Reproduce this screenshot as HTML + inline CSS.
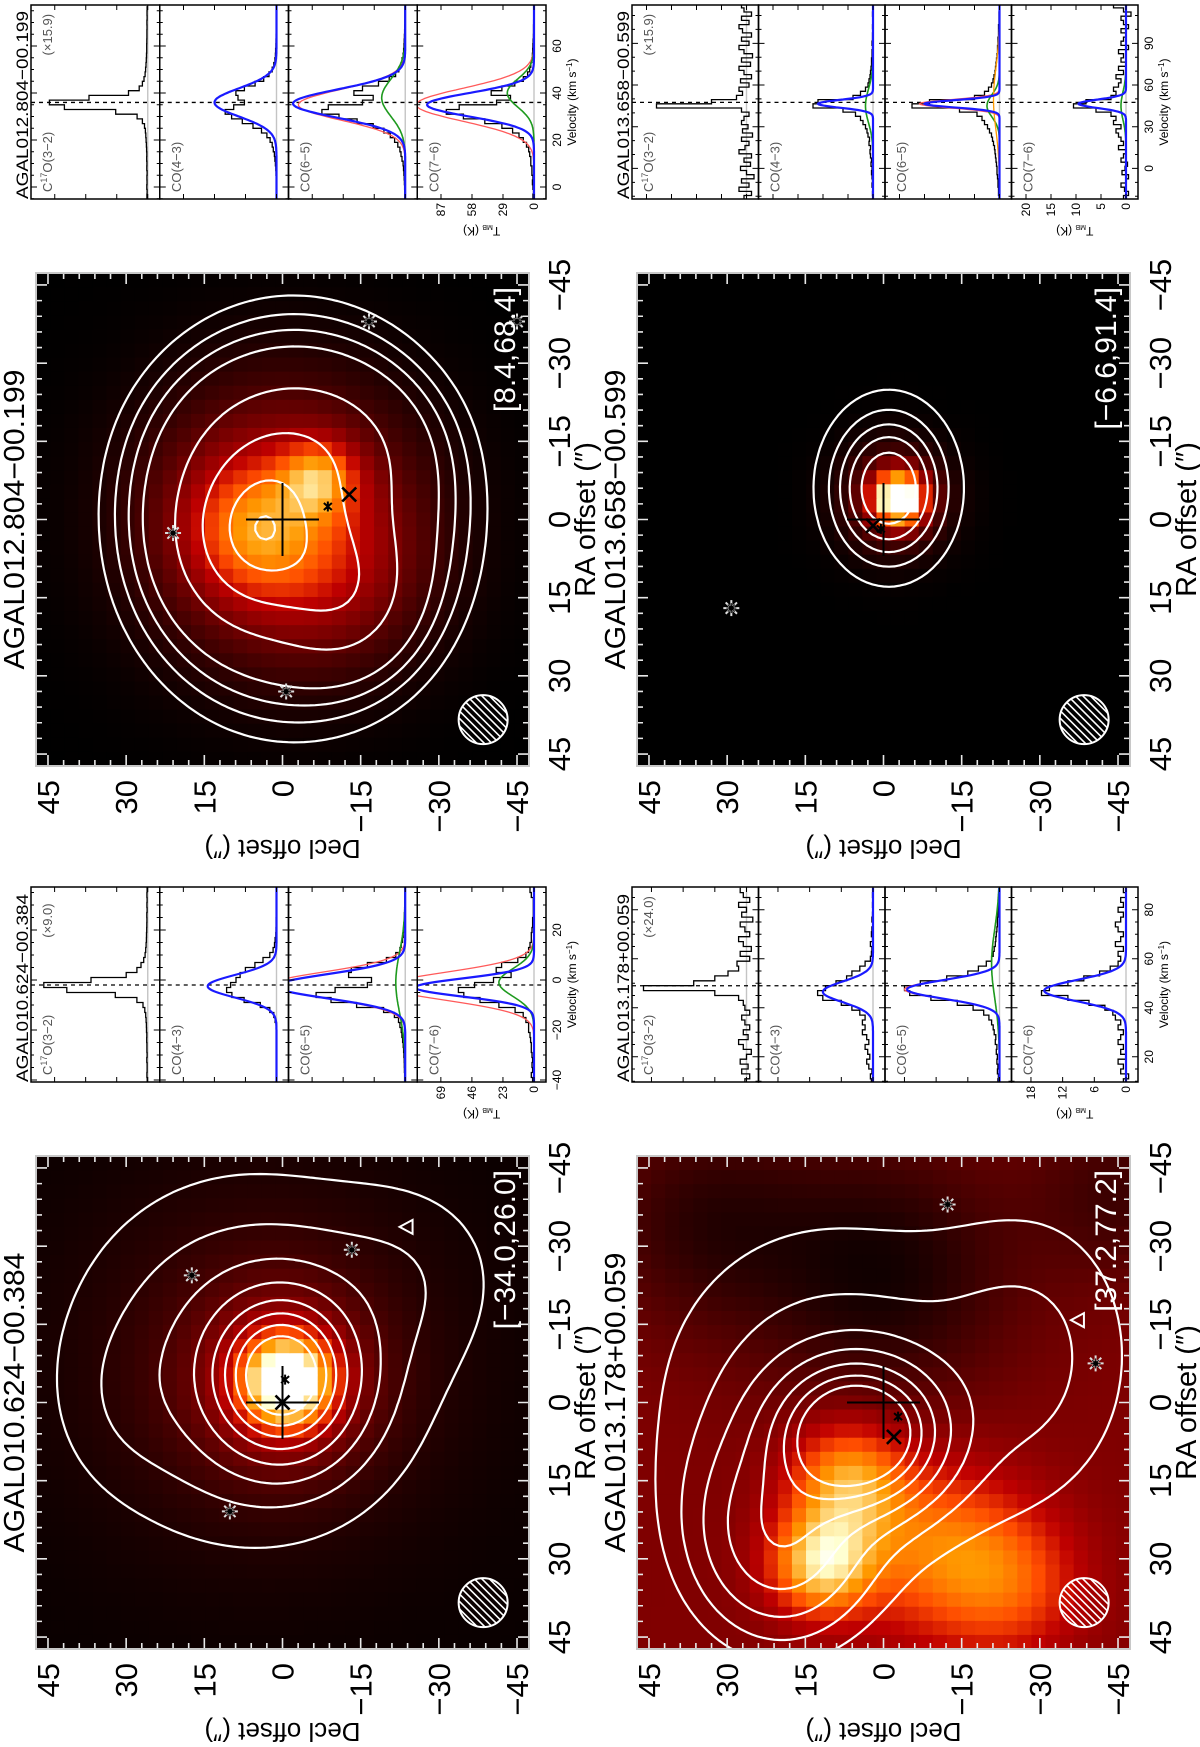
<!DOCTYPE html>
<html><head><meta charset="utf-8">
<style>
html,body{margin:0;padding:0;background:#fff;width:1200px;height:1747px;overflow:hidden}
#rot{position:absolute;left:0;top:0;width:1747px;height:1200px;transform-origin:0 0;transform:translateY(1747px) rotate(-90deg)}
svg text{font-family:"Liberation Sans",sans-serif}
</style></head>
<body>
<div id="rot">
<svg id="fig" xmlns="http://www.w3.org/2000/svg" width="1747" height="1200"></svg>
</div>
<script>
// ---------- axis tick data ----------
const raTicks=[45,30,15,0,-15,-30,-45];
const decTicks=[45,30,15,0,-15,-30,-45];
const mapTitles=['AGAL010.624\u221200.384','AGAL012.804\u221200.199','AGAL013.178+00.059','AGAL013.658\u221200.599'];
const mapRanges=['[\u221234.0,26.0]','[8.4,68.4]','[37.2,77.2]','[\u22126.6,91.4]'];

// ---------- map 1 (AGAL010.624) ----------
const m1Base=0.02;
const m1ColRA=[-4,-4,-8];
const m1ColDec=[-1,0,4];
const m1ColAmp=[0.8,0.3,0.14];
const m1ColSig=[6,12,25];
const m1ConRA=[-5,-8,-25,0];
const m1ConDec=[0,6,-25,30];
const m1ConAmp=[1,0.22,0.06,0.03];
const m1ConSRA=[9,20,12,10];
const m1ConSDec=[8,20,12,8];
const m1Levels=[0.045,0.1,0.18,0.3,0.45,0.6,0.75,0.9];
const m1StarRA=[20.9,-24.4,-29.3];
const m1StarDec=[10.1,17.4,-13.3];
const m1Cross=[0,0];
const m1Ast=[-4.4,-0.5];
const m1Tri=[-33.7,-24];

// ---------- map 2 (AGAL012.804) ----------
const m2Base=0.0;
const m2ColRA=[-8,2,0,10];
const m2ColDec=[-7,6,0,-10];
const m2ColAmp=[0.4,0.32,0.44,0.15];
const m2ColSig=[5,9,18,12];
const m2ConRA=[3,14,-14,0];
const m2ConDec=[5,-12,-4,-2];
const m2ConAmp=[0.5,0.25,0.2,0.55];
const m2ConSRA=[10,9,10,30];
const m2ConSDec=[9,8,14,26];
const m2Levels=[0.2,0.24,0.28,0.33,0.5,0.72,0.95,1.08];
const m2StarRA=[2.6,33,-38,-38];
const m2StarDec=[21,-0.7,-16.6,-45];
const m2Cross=[-4.8,-12.8];
const m2Ast=[-2.5,-8.7];
const m2Tri=[];

// ---------- map 3 (AGAL013.178) ----------
const m3Base=0.3;
const m3ColRA=[31,15,28,35,-25,-40,-35];
const m3ColDec=[12,7,-10,-25,0,-45,35];
const m3ColAmp=[0.55,0.45,0.35,0.25,-0.25,-0.15,-0.18];
const m3ColSig=[7,8,12,10,18,12,15];
const m3ConRA=[6,25,0,-10];
const m3ConDec=[5,20,10,-30];
const m3ConAmp=[1,0.3,0.12,0.08];
const m3ConSRA=[8,12,25,20];
const m3ConSDec=[9,10,24,14];
const m3Levels=[0.05,0.09,0.15,0.24,0.36,0.5,0.64];
const m3StarRA=[-38,-7.5];
const m3StarDec=[-12.3,-40.7];
const m3Cross=[6.6,-2];
const m3Ast=[2.7,-2.8];
const m3Tri=[-15.8,-37.5];

// ---------- map 4 (AGAL013.658) ----------
const m4Base=0.0;
const m4ColRA=[-4,-4];
const m4ColDec=[-3,-2];
const m4ColAmp=[1.0,0.3];
const m4ColSig=[3.5,7];
const m4ConRA=[-6];
const m4ConDec=[-1];
const m4ConAmp=[1];
const m4ConSRA=[9.7];
const m4ConSDec=[7.4];
const m4Levels=[0.15,0.3,0.45,0.6,0.78];
const m4StarRA=[17];
const m4StarDec=[29.2];
const m4Cross=[1.2,2];
const m4Ast=[1.8,0.5];
const m4Tri=[];

// ---------- spectra tick data ----------
const specTitles=mapTitles;
const specScales=['(\u00d79.0)','(\u00d715.9)','(\u00d724.0)','(\u00d715.9)'];
const s1VTicks=[-40,-20,0,20];
const s2VTicks=[0,20,40,60];
const s3VTicks=[20,40,60,80];
const s4VTicks=[0,30,60,90];
const s1TTicks=[0,23,46,69];
const s2TTicks=[0,29,58,87];
const s3TTicks=[0,6,12,18];
const s4TTicks=[0,5,10,15,20];
const specVlsr=[-2,36,49,47.5];

// spectra 1 channels: -40..36 step 2
const s1Chan=[-40,2];
const s1C17O=[0.4,0.6,0.5,0.5,0.7,0.5,0.6,0.6,0.8,0.7,0.9,1.0,1.2,1.5,2.2,3.5,8,24,60,77,42,16,8,5,3,2,1.5,1.2,1.0,0.9,0.8,0.7,0.6,0.7,0.5,0.6,0.5,0.6,0.5];
const s1CO43=[0,0,0,0,0,0,0,0,0,0,0,0,1,2,5,12,24,33,37,34,30,27,23,16,10,5,2.5,1.5,1,0.5,0.4,0.3,0.3,0.2,0.2,0.1,0.1,0,0];
const s1CO65=[0.5,0.5,0.6,0.7,0.8,1,1.2,1.5,2,2.5,3,4,5,8,16,36,55,66,52,28,25,42,40,28,14,7,4,3,2,1.5,1.2,1,0.8,0.6,0.5,0.4,0.3,0.3,0.2];
const s1CO76=[1,2,1,1.5,1,1.5,2,2,2.5,3,4,4,6,8,14,26,40,52,56,44,30,17,28,24,12,6,4,3,2,2,1.5,1,1,0.5,0.5,0.5,0.5,2,3];
const s1Fit43={blue:[51,-2.5,4.5]};
const s1Fit65={red:[100,-2,5.2],green:[7,-1,12],blue:[96,-2.5,4.8]};
const s1Fit76={red:[110,-2.5,5.5],green:[26,-1,5.5],blue:[88,-3,3.6]};

// spectra 2 channels: -4..76 step 2
const s2Chan=[-4,2];
const s2C17O=[0.8,0.6,0.9,0.7,0.8,0.6,0.9,0.8,1,0.9,1.1,1.3,1.5,1.8,2.2,3,5,10,30,78,92,55,18,8,5,3.5,2.5,2,1.6,1.4,1.2,1,1,0.9,0.8,0.8,0.7,0.8,0.6,0.7,0.6];
const s2CO43=[0,0,0,0.2,0.3,0.5,0.7,1,1.5,2,3,4,6,9,14,22,32,42,48,40,30,36,38,30,20,12,7,4,2.5,1.5,1,0.8,0.6,0.5,0.4,0.3,0.3,0.2,0.2,0.1,0.1];
const s2CO65=[0.5,0.5,0.6,0.8,1,1.3,1.6,2,3,4,5,7,10,14,20,30,45,62,78,72,40,30,48,40,25,15,9,6,4,3,2,1.5,1.2,1,0.8,0.6,0.5,0.4,0.3,0.3,0.2];
const s2CO76=[1,0.5,1,1.5,1,2,2,3,3,4,5,7,10,14,20,30,46,66,82,70,35,22,40,30,18,10,6,4,3,2,1.5,1.2,1,0.8,0.6,0.5,0.5,0.4,0.3,0.3,0.2];
const s2Fit43={blue:[58,36,6]};
const s2Fit65={red:[100,35,6.5],green:[22,38,8],blue:[105,35.5,6]};
const s2Fit76={red:[110,35,7],green:[25,40,6],blue:[100,35,5]};

// spectra 3 channels: 10..88 step 2
const s3Chan=[10,2];
const s3C17O=[0.3,-0.6,0.9,-0.3,1.2,0,-0.9,0.6,1.5,-0.3,0.6,-0.6,0.3,0.9,-0.6,0.3,0.6,1.5,6,19.5,10,6,3.5,1.5,1.8,-0.6,1.2,-0.9,0.6,1.5,-0.6,0.3,1.2,-1.2,0.9,0,1.5,-0.6,0.6,1.2];
const s3CO43=[0.3,0.5,0.2,0.8,1.2,0.6,1,1.5,0.8,1.2,2,1.5,2,1.5,2.5,4,6,9.5,10.5,9,7,5,4,2.5,1.5,0.5,0.3,0.2,0.5,0.1,0.3,0.2,0,0.2,0.1,0,0.1,0,0.1,0];
const s3CO65=[0.3,0.2,0.4,0.3,0.5,0.4,0.6,0.5,0.8,0.7,1,1.2,1.5,2,3,5,8,13,17,18,15,10,6,4,2.5,1.5,1.2,1,0.8,0.7,0.6,0.5,0.4,0.4,0.3,0.3,0.2,0.2,0.1,0.1];
const s3CO76=[0.5,-0.5,1,0.5,1.5,0,1,0.5,1.5,1,0.5,1.5,1,2,2.5,4,7,11,16,14.5,11,8,5,3,1.5,1,1.5,0.5,2,1,0.5,1.5,2,1,0.5,1.5,0.5,1,0,0.5];
const s3Fit43={blue:[9.5,46.5,4.2]};
const s3Fit65={red:[18,47.5,3.8],green:[1.5,58,14],blue:[17.5,47.5,3.8]};
const s3Fit76={blue:[15.5,47,4.3]};

// spectra 4 channels: -21..117 step 3
const s4Chan=[-21,3];
const s4C17O=[0.5,-1,1.5,-0.5,1,-1.5,0,1.2,-0.8,0.5,-1,1.5,0.3,-0.5,1,-1.2,0.8,-0.3,1,0.5,-0.5,1,18,7,2,0.8,1.5,-0.5,1.2,-1,0.5,1.5,-0.8,1,-1.2,0.5,1.5,-0.5,1,-1,0.8,1.5,-0.5,1,-1,0.5,1];
const s4CO43=[0,0.1,0,0.2,0.1,0.2,0.3,0.2,0.4,0.3,0.5,0.6,0.5,0.8,0.7,1,1.2,1.5,2,2.5,3.5,6,12,11,4,2.5,1.5,1,0.8,0.6,0.5,0.4,0.3,0.3,0.2,0.2,0.1,0.2,0.1,0.1,0,0.1,0,0,0.1,0,0];
const s4CO65=[0.1,0.2,0.2,0.3,0.3,0.4,0.5,0.5,0.6,0.7,0.8,0.9,1,1.2,1.4,1.6,2,2.4,3,3.5,4.5,8,17.5,14,5,3,2.2,1.6,1.3,1.1,0.9,0.8,0.7,0.6,0.5,0.4,0.4,0.3,0.3,0.2,0.2,0.2,0.1,0.1,0.1,0,0];
const s4CO76=[0.5,-0.5,0.3,1,0,-0.5,0.8,0.2,-0.3,1,0.5,0,1.5,0.5,1,1.5,2,1,2.5,2,3,6,10.5,8,3,2,2.5,1.5,1,2,0.5,1.5,0,1,0.5,1.5,-0.5,1,0.5,0,1,-0.5,0.5,1,-1,0.5,2.5];
const s4Fit43={green:[1.5,45,12],blue:[11,46.5,2.8]};
const s4Fit65={red:[16,46.5,3],green:[2.5,45,8],orange:[1.2,50,22],blue:[15,46.5,2.6]};
const s4Fit76={green:[1,45,10],blue:[9.5,46.5,3]};

// ---------- helpers ----------
const NS='http://www.w3.org/2000/svg';
const svg=document.getElementById('fig');
function mk(tag,attrs,parent){const e=document.createElementNS(NS,tag);for(const k in attrs)e.setAttribute(k,attrs[k]);(parent||svg).appendChild(e);return e;}
function txt(str,attrs,parent){const e=mk('text',attrs,parent);e.textContent=str;return e;}
function fmt(n){return n<0?'\u2212'+Math.abs(n):String(n);}
function clamp(x){return Math.max(0,Math.min(1,x));}
function cmap(t){t=clamp(t);const r=Math.min(1,t/0.6),g=clamp((t-0.45)/0.5),b=clamp((t-0.75)/0.25);
  return 'rgb('+Math.round(r*255)+','+Math.round(g*255)+','+Math.round(b*255)+')';}

const SZ=493, R=47.3, S=SZ/94.6;

function drawMap(idx,box,base,cRA,cDec,cAmp,cSig,kRA,kDec,kAmp,kSRA,kSDec,levels,stRA,stDec,crossX,ast,tri){
  const g=mk('g',{});
  
  
  const X=ra=>box.x+(R-ra)*S, Y=dec=>box.y+(R-dec)*S;
  const cp=mk('clipPath',{id:'mclip'+idx},g);
  mk('rect',{x:box.x,y:box.y,width:SZ,height:SZ},cp);
  const img=mk('g',{'clip-path':'url(#mclip'+idx+')'},g);
  
  
  mk('rect',{x:box.x,y:box.y,width:SZ,height:SZ,fill:'#000'},img);
  const N=35, cs=94.6/N;
  for(let i=0;i<N;i++){for(let j=0;j<N;j++){
    const ra=R-(i+0.5)*cs, dec=R-(j+0.5)*cs;
    let v=base;
    for(let k=0;k<cAmp.length;k++){const dr=ra-cRA[k],dd=dec-cDec[k];v+=cAmp[k]*Math.exp(-(dr*dr+dd*dd)/(2*cSig[k]*cSig[k]));}
    const c=mk('rect',{x:(X(ra)-cs*S/2).toFixed(2),y:(Y(dec)-cs*S/2).toFixed(2),width:(cs*S+0.7).toFixed(2),height:(cs*S+0.7).toFixed(2),fill:cmap(v)},img);
    
    
  }}
  const M=90, st=94.6/M, w=st*S;
  const F=[];
  for(let j=0;j<=M;j++){F[j]=[];for(let i=0;i<=M;i++){const ra=R-i*st,dec=R-j*st;let v=0;
    for(let k=0;k<kAmp.length;k++){const dr=(ra-kRA[k])/kSRA[k],dd=(dec-kDec[k])/kSDec[k];v+=kAmp[k]*Math.exp(-(dr*dr+dd*dd)/2);}F[j][i]=v;}}
  let d='';
  const P=p=>p[0].toFixed(1)+' '+p[1].toFixed(1);
  for(const L of levels){for(let j=0;j<M;j++){for(let i=0;i<M;i++){
    const a=F[j][i],b=F[j][i+1],c=F[j+1][i+1],e=F[j+1][i];
    const id=(a>L?8:0)|(b>L?4:0)|(c>L?2:0)|(e>L?1:0);
    if(id===0||id===15)continue;
    const x0=box.x+i*w,y0=box.y+j*w;
    const T=[x0+w*(L-a)/(b-a),y0],Rt=[x0+w,y0+w*(L-b)/(c-b)],B=[x0+w*(L-e)/(c-e),y0+w],Lf=[x0,y0+w*(L-a)/(e-a)];
    const segs={1:[[Lf,B]],2:[[B,Rt]],3:[[Lf,Rt]],4:[[T,Rt]],5:[[Lf,T],[B,Rt]],6:[[T,B]],7:[[Lf,T]],8:[[Lf,T]],9:[[T,B]],10:[[T,Rt],[Lf,B]],11:[[T,Rt]],12:[[Lf,Rt]],13:[[B,Rt]],14:[[Lf,B]]}[id];
    for(const s of segs)d+='M'+P(s[0])+'L'+P(s[1]);
  }}}
  const cont=mk('path',{d:d,fill:'none',stroke:'#fff','stroke-width':2.2,'stroke-linecap':'round'},img);
  
  
  for(let k=0;k<stRA.length;k++){
    const sx=X(stRA[k]),sy=Y(stDec[k]);
    const sg=mk('g',{},img);
    
    
    for(let a=0;a<4;a++){const an=a*Math.PI/4;
      mk('line',{x1:sx-8*Math.cos(an),y1:sy-8*Math.sin(an),x2:sx+8*Math.cos(an),y2:sy+8*Math.sin(an),stroke:'#ddd','stroke-width':2},sg);
      mk('line',{x1:sx-5*Math.cos(an),y1:sy-5*Math.sin(an),x2:sx+5*Math.cos(an),y2:sy+5*Math.sin(an),stroke:'#222','stroke-width':1.2},sg);}
    mk('circle',{cx:sx,cy:sy,r:2.6,fill:'#000'},sg);
  }
  if(tri.length){
    const tx=X(tri[0]),ty=Y(tri[1]);
    const t=mk('path',{d:'M'+(tx-7)+' '+(ty+5)+'L'+(tx+7)+' '+(ty+5)+'L'+tx+' '+(ty-8)+'Z',fill:'none',stroke:'#fff','stroke-width':2},img);
    
    
  }
  const px=X(0),py=Y(0);
  const pl=mk('path',{d:'M'+(px-7*S)+' '+py+'H'+(px+7*S)+'M'+px+' '+(py-7*S)+'V'+(py+7*S),stroke:'#000','stroke-width':2},img);
  
  
  const ax=X(ast[0]),ay=Y(ast[1]);
  const as=mk('path',{d:'M'+(ax-5)+' '+ay+'H'+(ax+5)+'M'+(ax-3.5)+' '+(ay-4)+'L'+(ax+3.5)+' '+(ay+4)+'M'+(ax-3.5)+' '+(ay+4)+'L'+(ax+3.5)+' '+(ay-4),stroke:'#000','stroke-width':2},img);
  
  
  const cx=X(crossX[0]),cy=Y(crossX[1]);
  const cr=mk('path',{d:'M'+(cx-7)+' '+(cy-7)+'L'+(cx+7)+' '+(cy+7)+'M'+(cx-7)+' '+(cy+7)+'L'+(cx+7)+' '+(cy-7),stroke:'#000','stroke-width':2.6},img);
  
  
  const bx=X(38.4),by=Y(-38.5),br=4.7*S;
  const bcp=mk('clipPath',{id:'bclip'+idx},g);
  mk('circle',{cx:bx,cy:by,r:br},bcp);
  const bg=mk('g',{},img);
  
  
  const hg=mk('g',{'clip-path':'url(#bclip'+idx+')'},bg);
  for(let o=-60;o<=60;o+=7.5){mk('line',{x1:bx+o-40,y1:by+40,x2:bx+o+40,y2:by-40,stroke:'#fff','stroke-width':1.6},hg);}
  mk('circle',{cx:bx,cy:by,r:br,fill:'none',stroke:'#fff','stroke-width':2},bg);
  const rl=txt(mapRanges[idx],{x:box.x+SZ-14,y:box.y+SZ-14,'text-anchor':'end','font-size':30,fill:'#fff'},img);
  
  
  let td='';
  for(let v=-45;v<=45;v+=3){const L=(v%15===0)?11:6;
    td+='M'+X(v)+' '+box.y+'v'+L+'M'+X(v)+' '+(box.y+SZ)+'v'+(-L);
    td+='M'+box.x+' '+Y(v)+'h'+L+'M'+(box.x+SZ)+' '+Y(v)+'h'+(-L);}
  const tk=mk('path',{d:td,stroke:'#e8e8e8','stroke-width':1.6},g);
  
  
  const fr=mk('rect',{x:box.x,y:box.y,width:SZ,height:SZ,fill:'none',stroke:'#c8c8c8','stroke-width':2},g);
  
  
  for(const r of raTicks){const t=txt(fmt(r),{x:X(r),y:box.y+SZ+41,'text-anchor':'middle','font-size':31,fill:'#000'},g);
    
    }
  for(const dd of decTicks){const t=txt(fmt(dd),{x:box.x-14,y:Y(dd)+11,'text-anchor':'end','font-size':31,fill:'#000'},g);
    
    }
  const xt=txt('RA offset (\u2033)',{x:box.x+SZ/2,y:box.y+SZ+66,'text-anchor':'middle','font-size':29,fill:'#000'},g);
  
  
  const yx=box.x-74,yy=box.y+SZ/2;
  const yt=txt('Decl offset (\u2033)',{x:yx,y:yy,'text-anchor':'middle','font-size':26,fill:'#000',transform:'rotate(-90 '+yx+' '+yy+')'},g);
  
  
  const tt=txt(mapTitles[idx],{x:box.x+SZ/2,y:box.y-12,'text-anchor':'middle','font-size':29,textLength:300,lengthAdjust:'spacingAndGlyphs',fill:'#000'},g);
  
  
}

const fitColor={blue:'#1a1aff',red:'#ff5a5a',green:'#1e9a1e',orange:'#ff9a00'};
const fitWidth={blue:2.2,red:1.3,green:1.6,orange:1.3};
const lineNames=['C17O(3-2)','CO(4-3)','CO(6-5)','CO(7-6)'];

function drawSpec(idx,cfg,chan,hists,fits,vticks,tticks,minor){
  const g=mk('g',{});
  
  
  const subH=cfg.h/4;
  const X=v=>cfg.x+(v-cfg.vmin)*cfg.pxv;
  const vmax=cfg.vmin+cfg.w/cfg.pxv;
  for(let k=0;k<4;k++){
    const top=cfg.y+k*subH, base=top+subH-12;
    const Yt=T=>base-T*cfg.pxk;
    const sg=mk('g',{},g);
    
    
    const cid='sclip'+idx+'_'+k;
    const cp=mk('clipPath',{id:cid},sg);
    mk('rect',{x:cfg.x,y:top,width:cfg.w,height:subH},cp);
    const inner=mk('g',{'clip-path':'url(#'+cid+')'},sg);
    const bl=mk('line',{x1:cfg.x,y1:base,x2:cfg.x+cfg.w,y2:base,stroke:'#c4c4c4','stroke-width':1.4},inner);
    
    
    const vl=mk('line',{x1:X(specVlsr[idx]),y1:top,x2:X(specVlsr[idx]),y2:top+subH,stroke:'#000','stroke-width':1.3,'stroke-dasharray':'4 4'},inner);
    
    
    const h=hists[k];
    let d='';
    for(let c=0;c<h.length;c++){const v=chan[0]+c*chan[1];const xa=X(v-chan[1]/2),xb=X(v+chan[1]/2),y=Yt(h[c]);
      d+=(c===0?'M':'L')+xa.toFixed(1)+' '+y.toFixed(1)+'L'+xb.toFixed(1)+' '+y.toFixed(1);}
    const hp=mk('path',{d:d,fill:'none',stroke:'#000','stroke-width':1.3},inner);
    
    
    const f=fits[k];
    for(const key of ['red','green','orange','blue']){
      if(!f||!f[key])continue;
      const p=f[key];let fd='';
      for(let v=cfg.vmin;v<=vmax;v+=0.4){const T=p[0]*Math.exp(-Math.pow(v-p[1],2)/(2*p[2]*p[2]));fd+=(v===cfg.vmin?'M':'L')+X(v).toFixed(1)+' '+Yt(T).toFixed(1);}
      const fp=mk('path',{d:fd,fill:'none',stroke:fitColor[key],'stroke-width':fitWidth[key]},inner);
      
      
    }
    let td='';
    for(let v=Math.ceil(cfg.vmin/minor)*minor;v<=vmax;v+=minor){const maj=(v%(vticks[1]-vticks[0])===0);const L=maj?6:3;
      td+='M'+X(v)+' '+top+'v'+L+'M'+X(v)+' '+(top+subH)+'v'+(-L);}
    for(const t of tticks){const y=Yt(t);if(y<top)continue;td+='M'+cfg.x+' '+y+'h5M'+(cfg.x+cfg.w)+' '+y+'h-5';}
    const tk=mk('path',{d:td,stroke:'#000','stroke-width':1},sg);
    
    
    const fr=mk('rect',{x:cfg.x,y:top,width:cfg.w,height:subH,fill:'none',stroke:'#000','stroke-width':1.5},sg);
    
    
    let lab;
    if(k===0){
      lab=mk('text',{x:cfg.x+7,y:top+21,'font-size':13,fill:'#555'},sg);
      lab.appendChild(document.createTextNode('C'));
      const sup=mk('tspan',{'font-size':9,dy:-5},lab);sup.textContent='17';
      const rest=mk('tspan',{dy:5},lab);rest.textContent='O(3\u22122)';
      const sc=txt(specScales[idx],{x:cfg.x+cfg.w*0.74,y:top+21,'font-size':13,fill:'#555'},sg);
      
      
    } else {
      lab=txt(['','CO(4\u22123)','CO(6\u22125)','CO(7\u22126)'][k],{x:cfg.x+7,y:top+21,'font-size':13,fill:'#555'},sg);
    }
    
    
    if(k===3){
      for(const t of tticks){const y=Yt(t);if(y<top)continue;
        const tl=txt(String(t),{x:cfg.x-4,y:y+4,'text-anchor':'end','font-size':12,fill:'#000'},g);
        
        }
      const yx=cfg.x-28,yy=top+subH/2;
      const yl=mk('text',{x:yx,y:yy,'text-anchor':'middle','font-size':12,fill:'#000',transform:'rotate(-90 '+yx+' '+yy+')'},g);
      yl.appendChild(document.createTextNode('T'));
      const sb=mk('tspan',{'font-size':7,dy:2},yl);sb.textContent='MB';
      const rt=mk('tspan',{dy:-2},yl);rt.textContent=' (K)';
      
      
    }
  }
  for(const v of vticks){const t=txt(fmt(v),{x:X(v),y:cfg.y+cfg.h+15,'text-anchor':'middle','font-size':12,fill:'#000'},g);
    
    }
  const vt=mk('text',{x:cfg.x+cfg.w/2,y:cfg.y+cfg.h+30,'text-anchor':'middle','font-size':12,fill:'#000'},g);
  vt.appendChild(document.createTextNode('Velocity (km s'));
  const sp=mk('tspan',{'font-size':8,dy:-4},vt);sp.textContent='\u22121';
  const cl=mk('tspan',{dy:4},vt);cl.textContent=')';
  
  
  const st=txt(specTitles[idx],{x:cfg.x,y:cfg.y-3,'font-size':17,textLength:188,lengthAdjust:'spacingAndGlyphs',fill:'#000'},g);
  
  
}

drawMap(0,{x:98,y:36},m1Base,m1ColRA,m1ColDec,m1ColAmp,m1ColSig,m1ConRA,m1ConDec,m1ConAmp,m1ConSRA,m1ConSDec,m1Levels,m1StarRA,m1StarDec,m1Cross,m1Ast,m1Tri);
drawMap(1,{x:981,y:36},m2Base,m2ColRA,m2ColDec,m2ColAmp,m2ColSig,m2ConRA,m2ConDec,m2ConAmp,m2ConSRA,m2ConSDec,m2Levels,m2StarRA,m2StarDec,m2Cross,m2Ast,m2Tri);
drawMap(2,{x:98,y:637},m3Base,m3ColRA,m3ColDec,m3ColAmp,m3ColSig,m3ConRA,m3ConDec,m3ConAmp,m3ConSRA,m3ConSDec,m3Levels,m3StarRA,m3StarDec,m3Cross,m3Ast,m3Tri);
drawMap(3,{x:981,y:637},m4Base,m4ColRA,m4ColDec,m4ColAmp,m4ColSig,m4ConRA,m4ConDec,m4ConAmp,m4ConSRA,m4ConSDec,m4Levels,m4StarRA,m4StarDec,m4Cross,m4Ast,m4Tri);

drawSpec(0,{x:665,y:31,w:195,h:515,vmin:-40.8,pxv:2.5,pxk:1.35},s1Chan,[s1C17O,s1CO43,s1CO65,s1CO76],[null,s1Fit43,s1Fit65,s1Fit76],s1VTicks,s1TTicks,5);
drawSpec(1,{x:1548,y:31,w:194,h:515,vmin:-5.1,pxv:2.35,pxk:1.069},s2Chan,[s2C17O,s2CO43,s2CO65,s2CO76],[null,s2Fit43,s2Fit65,s2Fit76],s2VTicks,s2TTicks,5);
drawSpec(2,{x:665,y:632,w:195,h:506,vmin:9.7,pxv:2.45,pxk:5.28},s3Chan,[s3C17O,s3CO43,s3CO65,s3CO76],[null,s3Fit43,s3Fit65,s3Fit76],s3VTicks,s3TTicks,5);
drawSpec(3,{x:1548,y:632,w:194,h:506,vmin:-22,pxv:1.39,pxk:5.0},s4Chan,[s4C17O,s4CO43,s4CO65,s4CO76],[null,s4Fit43,s4Fit65,s4Fit76],s4VTicks,s4TTicks,10);
</script>
</body></html>
